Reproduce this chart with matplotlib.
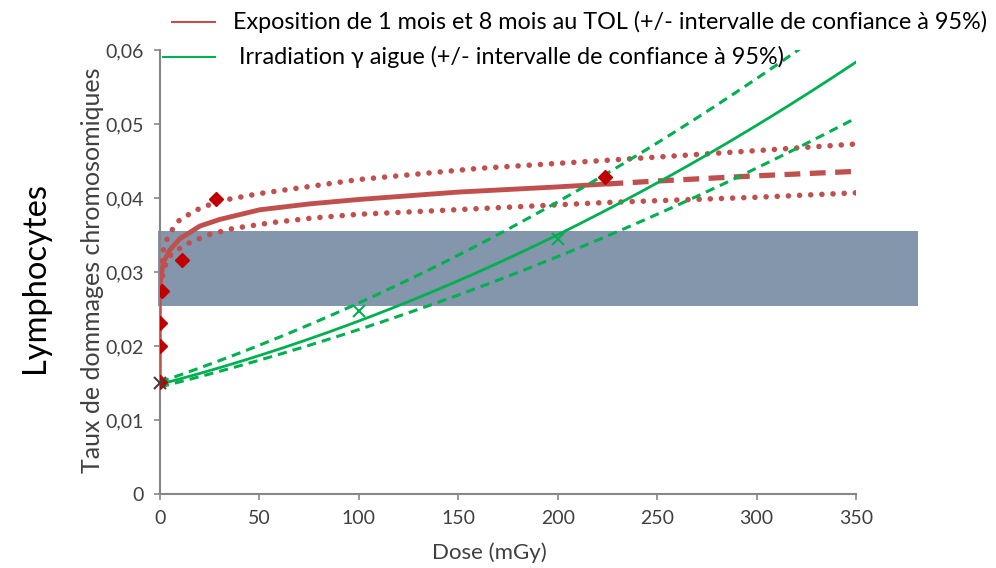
import numpy as np
import matplotlib
matplotlib.use("Agg")
import matplotlib.pyplot as plt
from matplotlib.patches import Rectangle
from matplotlib.ticker import FuncFormatter

plt.rcParams['font.family'] = ['Lato', 'DejaVu Sans']

# ---- data ----
# TOL exposure: observed points
tol_dose = [0, 0, 0, 1, 11, 28, 224]
tol_rate = [0.0152, 0.0200, 0.0231, 0.0274, 0.0316, 0.0398, 0.0428]

# TOL fitted curve (solid part) and extrapolation (dashed)
tol_fit_dose = [0, 0.3, 1, 2, 5, 10, 20, 30, 50, 75, 100, 150, 200, 225]
tol_fit_rate = [0.0270, 0.0290, 0.0302, 0.0315, 0.0330, 0.0345, 0.0362, 0.0371,
                0.0384, 0.0392, 0.0398, 0.0408, 0.0415, 0.0419]
tol_ext_dose = [225, 250, 300, 350]
tol_ext_rate = [0.0419, 0.0423, 0.0430, 0.0436]

# TOL confidence interval (dotted)
tol_up_dose = [0.3, 2, 5, 10, 20, 30, 50, 100, 160, 225, 300, 350]
tol_up_rate = [0.0300, 0.0335, 0.0353, 0.0371, 0.0386, 0.0396, 0.0406, 0.0425,
               0.0440, 0.0451, 0.0464, 0.0473]
tol_lo_dose = [0.3, 2, 5, 12, 24, 37, 57, 77, 100, 140, 163, 225, 300, 350]
tol_lo_rate = [0.0280, 0.0305, 0.0322, 0.0336, 0.0350, 0.0359, 0.0367, 0.0373,
               0.0378, 0.0383, 0.0386, 0.0394, 0.0401, 0.0407]

# Acute gamma irradiation: observed points
gam_dose = [100, 200]
gam_rate = [0.0247, 0.0345]
ctrl_dose = [0]
ctrl_rate = [0.0150]

# Acute gamma fitted curve and confidence interval
gam_fit_dose = [0, 50, 100, 150, 200, 250, 300, 350]
gam_fit_rate = [0.0148, 0.0187, 0.0235, 0.0288, 0.0350, 0.0420, 0.0498, 0.0584]
gam_up_dose = [0, 50, 100, 150, 200, 250, 300, 322]
gam_up_rate = [0.0153, 0.0201, 0.0254, 0.0323, 0.0397, 0.0476, 0.0562, 0.0600]
gam_lo_dose = [0, 50, 100, 150, 200, 250, 300, 350]
gam_lo_rate = [0.0145, 0.0182, 0.0221, 0.0266, 0.0323, 0.0379, 0.0441, 0.0507]

# Reference band (background range)
band_dose = [-1, 381]
band_rate = [0.0254, 0.0355]

x_ticks = [0, 50, 100, 150, 200, 250, 300, 350]
y_ticks = [0, 0.01, 0.02, 0.03, 0.04, 0.05, 0.06]

legend_labels = ["Exposition de 1 mois et 8 mois au TOL (+/- intervalle de confiance à 95%)",
                 " Irradiation γ aigue (+/- intervalle de confiance à 95%)"]

RED_LINE = '#C0504D'
RED_PT = '#C00000'
GREEN = '#00B050'
BAND = '#8496AB'
AXIS = '#868686'
TXT = '#404040'

fig = plt.figure(figsize=(9.96, 5.68), dpi=100)
ax = fig.add_axes([160/996, 1-494/568, 696/996, 444/568])


def smooth(xs, ys, deg=2):
    c = np.polyfit(xs, ys, deg)
    xx = np.linspace(xs[0], xs[-1], 200)
    return xx, np.polyval(c, xx)


# band
ax.add_patch(Rectangle((band_dose[0], band_rate[0]), band_dose[1]-band_dose[0],
                       band_rate[1]-band_rate[0], facecolor=BAND, edgecolor='none',
                       zorder=1, clip_on=False))

# TOL
dot = (0, (0.01, 2.0))
ax.plot(tol_up_dose, tol_up_rate, color=RED_LINE, lw=4.0, ls=dot,
        dash_capstyle='round', zorder=3)
ax.plot(tol_lo_dose, tol_lo_rate, color=RED_LINE, lw=4.0, ls=dot,
        dash_capstyle='round', zorder=3)
ax.plot([0, 0], [tol_rate[0], tol_fit_rate[0]], color=RED_LINE, lw=1.8, zorder=3)
ax.plot(tol_fit_dose, tol_fit_rate, color=RED_LINE, lw=3.5, zorder=4,
        solid_capstyle='round')
ax.plot(tol_ext_dose, tol_ext_rate, color=RED_LINE, lw=3.8, ls=(0, (3.0, 1.8)), zorder=4)
ax.plot(tol_dose, tol_rate, ls='none', marker='D', ms=7, color=RED_PT, zorder=6)

# gamma
gx, gy = smooth(gam_fit_dose, gam_fit_rate)
ax.plot(gx, gy, color=GREEN, lw=2.0, zorder=5)
ux, uy = smooth(gam_up_dose, gam_up_rate)
ax.plot(ux, uy, color=GREEN, lw=2.2, ls=(0, (3, 2)), zorder=5)
lx, ly = smooth(gam_lo_dose, gam_lo_rate)
ax.plot(lx, ly, color=GREEN, lw=2.2, ls=(0, (3, 2)), zorder=5)
ax.plot(gam_dose, gam_rate, ls='none', marker='x', ms=8, mew=1.5, color=GREEN, zorder=6)
ax.plot(ctrl_dose, ctrl_rate, ls='none', marker='x', ms=8, mew=1.5, color='#404040',
        zorder=6, clip_on=False)

ax.set_xlim(0, 350)
ax.set_ylim(0, 0.06)
ax.set_xticks(x_ticks)
ax.set_yticks(y_ticks)
ax.yaxis.set_major_formatter(FuncFormatter(
    lambda v, p: '0' if v == 0 else ('%.2f' % v).replace('.', ',')))
for s in ['top', 'right']:
    ax.spines[s].set_visible(False)
for s in ['left', 'bottom']:
    ax.spines[s].set_color(AXIS)
    ax.spines[s].set_linewidth(1.5)
ax.tick_params(colors=AXIS, labelcolor=TXT, labelsize=14, length=4.5, width=1.2)
ax.tick_params(axis='x', pad=7)
ax.tick_params(axis='y', pad=7)

fig.text(489/996, 1-553/568, 'Dose (mGy)', ha='center', va='center',
         fontsize=16, color=TXT)
fig.text(93/996, 1-270/568, 'Taux de dommages chromosomiques', rotation=90,
         ha='center', va='center', fontsize=18, color=TXT)
fig.text(35/996, 1-277/568, 'Lymphocytes', rotation=90, ha='center', va='center',
         fontsize=23.5, color='black')

# legend (manual)
fig.lines.append(plt.Line2D([172/996, 215/996], [1-22/568, 1-22/568],
                            color=RED_LINE, lw=1.5, transform=fig.transFigure))
fig.lines.append(plt.Line2D([163/996, 215/996], [1-57/568, 1-57/568],
                            color=GREEN, lw=1.5, transform=fig.transFigure))
fig.text(233/996, 1-22/568, legend_labels[0], ha='left', va='center', fontsize=16.8,
         color='black')
fig.text(233/996, 1-57/568, legend_labels[1], ha='left', va='center', fontsize=16.8,
         color='black')

fig.savefig('out.png', dpi=100)
